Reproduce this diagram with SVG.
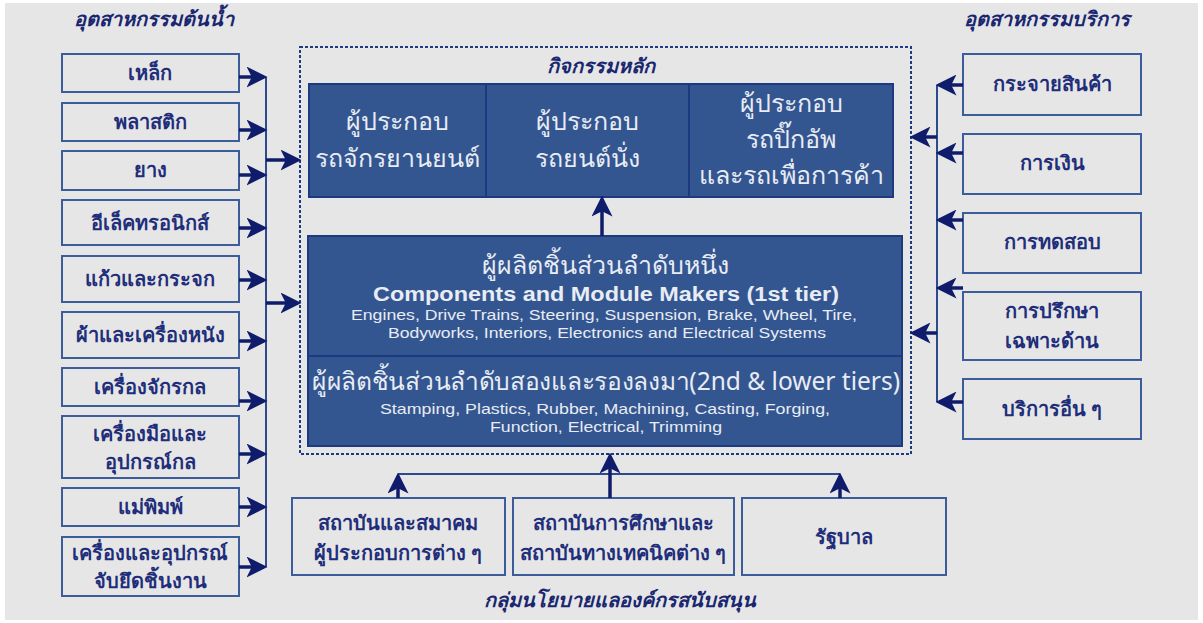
<svg xmlns="http://www.w3.org/2000/svg" width="1203" height="623" viewBox="0 0 1203 623">
<style>
.bg{fill:#e6e6e6}
.box{fill:none;stroke:#3d5c9c;stroke-width:2}
.dark{fill:#345690;stroke:#1d3a80;stroke-width:2}
.lbl{font-family:"Noto Sans","DejaVu Sans",sans-serif;font-weight:bold;font-size:20px;fill:#1f2e7a;text-anchor:middle}
.ttl{font-family:"Noto Sans","DejaVu Sans",sans-serif;font-weight:bold;font-style:italic;font-size:20px;fill:#1a2670;text-anchor:middle}
.wt{font-family:"Noto Sans","DejaVu Sans",sans-serif;font-size:25px;fill:#e8ecf4;text-anchor:middle}
.wb{font-family:"Liberation Sans","Noto Sans",sans-serif;font-weight:bold;font-size:20px;fill:#e8ecf4;text-anchor:middle}
.ws{font-family:"Liberation Sans","Noto Sans",sans-serif;font-size:15px;fill:#e8ecf4;text-anchor:middle}
.arr{stroke:#0f1c6b;stroke-width:3.5;fill:none;marker-end:url(#ah)}
.bus{stroke:#2d4b8c;stroke-width:2;fill:none}
</style>
<defs>
<marker id="ah" markerWidth="6" markerHeight="6" refX="5" refY="3" orient="auto" markerUnits="strokeWidth">
<path d="M0,0 L6,3 L0,6 L1.5,3 z" fill="#0f1c6b"/>
</marker>
</defs>
<rect class="bg" x="5" y="3" width="1193" height="617"/>

<text class="ttl" x="154" y="26">อุตสาหกรรมต้นน้ำ</text>
<text class="ttl" x="1047" y="26">อุตสาหกรรมบริการ</text>
<text class="ttl" x="601" y="73">กิจกรรมหลัก</text>
<text class="ttl" x="620" y="607">กลุ่มนโยบายแลองค์กรสนับสนุน</text>

<rect x="300" y="47" width="611" height="407" fill="none" stroke="#1d3a80" stroke-width="2" stroke-dasharray="3,2"/>

<g id="left-nodes">
<g id="n-steel"><rect class="box" x="62" y="54" width="177" height="38"/><text class="lbl" x="150" y="80">เหล็ก</text></g>
<g id="n-plastic"><rect class="box" x="62" y="103" width="177" height="38"/><text class="lbl" x="150" y="129">พลาสติก</text></g>
<g id="n-rubber"><rect class="box" x="62" y="151" width="177" height="39"/><text class="lbl" x="150" y="177">ยาง</text></g>
<g id="n-electronic"><rect class="box" x="62" y="200" width="177" height="45"/><text class="lbl" x="150" y="230">อีเล็คทรอนิกส์</text></g>
<g id="n-glass"><rect class="box" x="62" y="256" width="177" height="46"/><text class="lbl" x="150" y="286">แก้วและกระจก</text></g>
<g id="n-leather"><rect class="box" x="62" y="312" width="177" height="46"/><text class="lbl" x="150" y="342">ผ้าและเครื่องหนัง</text></g>
<g id="n-machine"><rect class="box" x="62" y="368" width="177" height="38"/><text class="lbl" x="150" y="394">เครื่องจักรกล</text></g>
<g id="n-tools"><rect class="box" x="62" y="416" width="177" height="62"/><text class="lbl" x="150" y="441">เครื่องมือและ</text><text class="lbl" x="150" y="469">อุปกรณ์กล</text></g>
<g id="n-mold"><rect class="box" x="62" y="488" width="177" height="38"/><text class="lbl" x="150" y="514">แม่พิมพ์</text></g>
<g id="n-jig"><rect class="box" x="62" y="537" width="177" height="59"/><text class="lbl" x="150" y="560">เครื่องและอุปกรณ์</text><text class="lbl" x="150" y="588">จับยึดชิ้นงาน</text></g>
</g>

<g id="right-nodes">
<g id="n-dist"><rect class="box" x="963" y="54" width="178" height="61"/><text class="lbl" x="1052" y="91">กระจายสินค้า</text></g>
<g id="n-fin"><rect class="box" x="963" y="134" width="178" height="60"/><text class="lbl" x="1052" y="170">การเงิน</text></g>
<g id="n-test"><rect class="box" x="963" y="213" width="178" height="60"/><text class="lbl" x="1052" y="249">การทดสอบ</text></g>
<g id="n-consult"><rect class="box" x="963" y="292" width="178" height="68"/><text class="lbl" x="1052" y="318">การปรึกษา</text><text class="lbl" x="1052" y="348">เฉพาะด้าน</text></g>
<g id="n-other"><rect class="box" x="963" y="379" width="178" height="60"/><text class="lbl" x="1052" y="416">บริการอื่น ๆ</text></g>
</g>

<g id="bottom-nodes">
<g id="n-assoc"><rect class="box" x="292" y="498" width="213" height="77"/><text class="lbl" x="398" y="530">สถาบันและสมาคม</text><text class="lbl" x="398" y="560">ผู้ประกอบการต่าง ๆ</text></g>
<g id="n-edu"><rect class="box" x="513" y="498" width="221" height="77"/><text class="lbl" x="623" y="530">สถาบันการศึกษาและ</text><text class="lbl" x="623" y="560">สถาบันทางเทคนิคต่าง ๆ</text></g>
<g id="n-gov"><rect class="box" x="742" y="498" width="204" height="77"/><text class="lbl" x="844" y="544">รัฐบาล</text></g>
</g>

<g id="top-nodes">
<g id="n-moto"><rect class="dark" x="309" y="84" width="177" height="113"/><text class="wt" x="397" y="130">ผู้ประกอบ</text><text class="wt" x="397" y="167">รถจักรยานยนต์</text></g>
<g id="n-car"><rect class="dark" x="486" y="84" width="203" height="113"/><text class="wt" x="587" y="130">ผู้ประกอบ</text><text class="wt" x="587" y="167">รถยนต์นั่ง</text></g>
<g id="n-pickup"><rect class="dark" x="689" y="84" width="204" height="113"/><text class="wt" x="791" y="112">ผู้ประกอบ</text><text class="wt" x="791" y="148">รถปิ๊กอัพ</text><text class="wt" x="791" y="184">และรถเพื่อการค้า</text></g>
</g>

<g id="tier1"><rect class="dark" x="308" y="236" width="594" height="120"/>
<text class="wt" x="605" y="274">ผู้ผลิตชิ้นส่วนลำดับหนึ่ง</text>
<text class="wb" x="606" y="301" textLength="466" lengthAdjust="spacingAndGlyphs">Components and Module Makers (1st tier)</text>
<text class="ws" x="604" y="320" textLength="506" lengthAdjust="spacingAndGlyphs">Engines, Drive Trains, Steering, Suspension, Brake, Wheel, Tire,</text>
<text class="ws" x="607" y="338" textLength="438" lengthAdjust="spacingAndGlyphs">Bodyworks, Interiors, Electronics and Electrical Systems</text>
</g>
<g id="tier2"><rect class="dark" x="308" y="356" width="594" height="90"/>
<text class="wt" x="606" y="390" font-size="23" textLength="588" lengthAdjust="spacingAndGlyphs">ผู้ผลิตชิ้นส่วนลำดับสองและรองลงมา(2nd &amp; lower tiers)</text>
<text class="ws" x="605" y="414" textLength="450" lengthAdjust="spacingAndGlyphs">Stamping, Plastics, Rubber, Machining, Casting, Forging,</text>
<text class="ws" x="606" y="432" textLength="232" lengthAdjust="spacingAndGlyphs">Function, Electrical, Trimming</text>
</g>

<g id="connectors">
<line class="bus" x1="266" y1="77" x2="266" y2="567"/>
<path class="arr" d="M239,77 H264"/>
<path class="arr" d="M239,130 H264"/>
<path class="arr" d="M239,175 H264"/>
<path class="arr" d="M239,228 H264"/>
<path class="arr" d="M239,280 H264"/>
<path class="arr" d="M239,341 H264"/>
<path class="arr" d="M239,401 H264"/>
<path class="arr" d="M239,454 H264"/>
<path class="arr" d="M239,507 H264"/>
<path class="arr" d="M239,567 H264"/>
<path class="arr" d="M266,160 H298"/>
<path class="arr" d="M266,303 H298"/>
<line class="bus" x1="937" y1="85" x2="937" y2="402"/>
<path class="arr" d="M963,85 H939"/>
<path class="arr" d="M963,153 H939"/>
<path class="arr" d="M963,220 H939"/>
<path class="arr" d="M963,288 H939"/>
<path class="arr" d="M963,402 H939"/>
<path class="arr" d="M937,137 H913"/>
<path class="arr" d="M937,333 H913"/>
<path class="arr" d="M602,236 V199"/>
<line class="bus" x1="398" y1="474" x2="840" y2="474"/>
<path class="arr" d="M398,498 V476"/>
<path class="arr" d="M840,498 V476"/>
<path class="arr" d="M610,498 V456"/>
</g>
</svg>
